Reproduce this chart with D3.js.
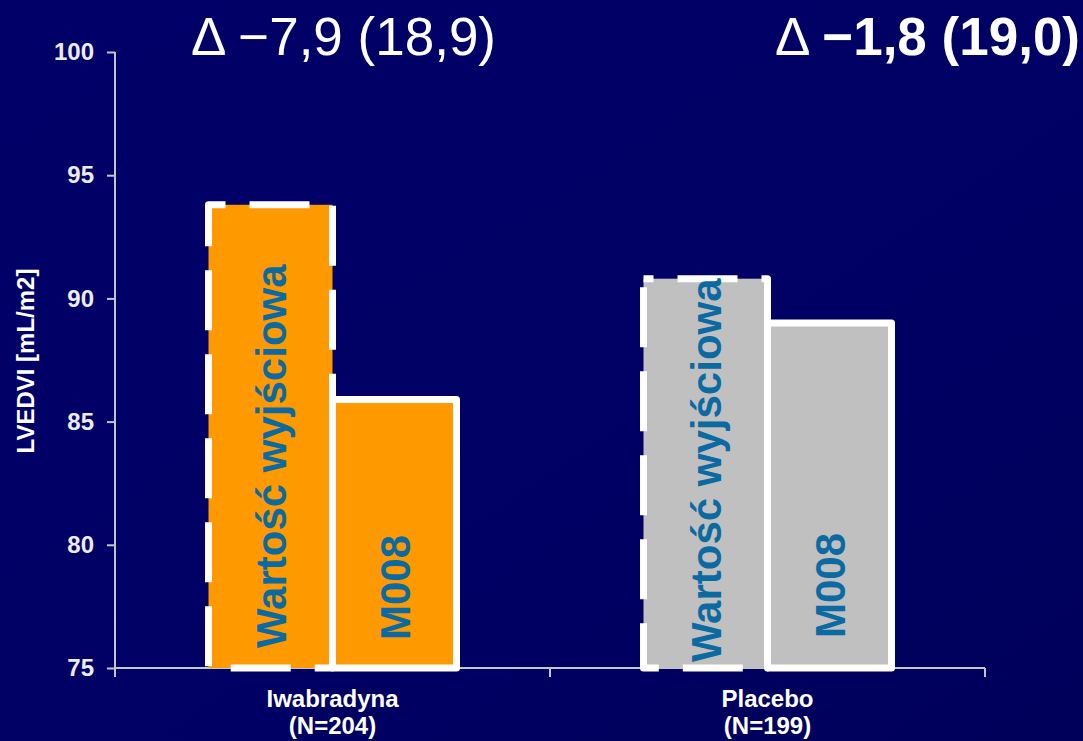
<!DOCTYPE html>
<html>
<head>
<meta charset="utf-8">
<script src="https://cdn.jsdelivr.net/npm/d3@7"></script>
<style>
  html, body { margin: 0; padding: 0; background: #000064; }
  svg { display: block; }
</style>
</head>
<body>
<svg id="chart" width="1083" height="741"></svg>
<script>
// LVEDVI at baseline and at month 8, by treatment group
const groups = ["Iwabradyna", "Placebo"];
const groupSizes = ["(N=204)", "(N=199)"];
const series = ["baseline", "m008"];
const seriesLabels = ["Wartość wyjściowa", "M008"];
const baselineValues = [93.8, 90.8];
const m008Values = [85.9, 89.0];
const deltaLabels = ["−7,9 (18,9)", "−1,8 (19,0)"];
const yTicks = [75, 80, 85, 90, 95, 100];
const yTitle = "LVEDVI [mL/m2]";

const W = 1083, H = 741;
const svg = d3.select("#chart");

// background
const defs = svg.append("defs");
const bg = defs.append("linearGradient").attr("id", "bg")
  .attr("x1", "0").attr("y1", "0").attr("x2", "1").attr("y2", "1");
bg.append("stop").attr("offset", "0").attr("stop-color", "#000068");
bg.append("stop").attr("offset", "0.6").attr("stop-color", "#000064");
bg.append("stop").attr("offset", "1").attr("stop-color", "#00005a");
svg.append("rect").attr("width", W).attr("height", H).attr("fill", "url(#bg)");

const plotLeft = 115, plotRight = 985, plotTop = 52, plotBottom = 668;

const x0 = d3.scaleBand().domain(groups).range([plotLeft, plotRight]).padding(0);
const groupWidth = 248;
const x1 = d3.scaleBand().domain(series)
  .range([(x0.bandwidth() - groupWidth) / 2, (x0.bandwidth() + groupWidth) / 2]).padding(0);
const y = d3.scaleLinear().domain([75, 100]).range([plotBottom, plotTop]);

const fills = { Iwabradyna: "#ff9900", Placebo: "#c0c0c0" };
const dashOffset = { Iwabradyna: 43, Placebo: 50 };
const textNudge = { Iwabradyna: [20, 28], Placebo: [6, 30] };
const axisColor = "#c4c4cc";

const data = groups.map((g, i) => ({
  group: g,
  values: [
    { key: "baseline", value: baselineValues[i], label: seriesLabels[0] },
    { key: "m008", value: m008Values[i], label: seriesLabels[1] }
  ]
}));

// y axis
const yAxis = svg.append("g").attr("transform", `translate(${plotLeft},0)`)
  .call(d3.axisLeft(y).tickValues(yTicks).tickSize(8).tickPadding(13).tickFormat(d3.format("d")));
yAxis.select(".domain").attr("stroke", axisColor).attr("stroke-width", 2)
  .attr("d", `M0,${y(100)}V${y(75)}`);
yAxis.selectAll(".tick line").attr("stroke", axisColor).attr("stroke-width", 2);
yAxis.selectAll(".tick text")
  .attr("fill", "#ececec")
  .style("font-family", "Liberation Sans, Arial, sans-serif")
  .style("font-weight", "bold")
  .style("font-size", "24px");

// x axis: ticks at the group boundaries
const xEdges = groups.map(g => x0(g)).concat([x0(groups[groups.length - 1]) + x0.bandwidth()]);
const xAxis = svg.append("g");
xAxis.append("line").attr("x1", plotLeft).attr("x2", plotRight).attr("y1", plotBottom).attr("y2", plotBottom)
  .attr("stroke", axisColor).attr("stroke-width", 2);
xAxis.selectAll("line.tk").data(xEdges).join("line").attr("class", "tk")
  .attr("x1", d => d).attr("x2", d => d).attr("y1", plotBottom).attr("y2", plotBottom + 9)
  .attr("stroke", axisColor).attr("stroke-width", 2);

// bars
const gGroups = svg.selectAll("g.grp").data(data).join("g")
  .attr("class", "grp")
  .attr("transform", d => `translate(${x0(d.group)},0)`);

gGroups.each(function (d) {
  const g = d3.select(this);
  d.values.forEach((v) => {
    const bx = x1(v.key), bw = x1.bandwidth();
    const r = g.append("rect")
      .attr("x", bx).attr("y", y(v.value))
      .attr("width", bw).attr("height", y(75) - y(v.value))
      .attr("fill", fills[d.group])
      .attr("stroke", "#ffffff").attr("stroke-width", 7)
      .attr("stroke-linejoin", "round");
    if (v.key === "baseline") {
      r.attr("stroke-dasharray", "60 24").attr("stroke-dashoffset", dashOffset[d.group]);
    }
  });
  d.values.forEach((v, j) => {
    const cx = x1(v.key) + x1.bandwidth() / 2;
    const sy = y(75) - textNudge[d.group][j];
    g.append("text")
      .attr("transform", `translate(${cx + 15},${sy}) rotate(-90)`)
      .attr("fill", "#0b6aa2")
      .style("font-family", "Liberation Sans, Arial, sans-serif")
      .style("font-weight", "bold")
      .style("font-size", "42px")
      .text(v.label);
  });
});

// category labels
const catLabels = svg.selectAll("text.cat").data(groups).join("text")
  .attr("class", "cat")
  .attr("x", d => x0(d) + x0.bandwidth() / 2)
  .attr("y", 707)
  .attr("text-anchor", "middle")
  .attr("fill", "#ffffff")
  .style("font-family", "Liberation Sans, Arial, sans-serif")
  .style("font-weight", "bold")
  .style("font-size", "24px");
catLabels.append("tspan").text(d => d);
catLabels.append("tspan")
  .attr("x", d => x0(d) + x0.bandwidth() / 2)
  .attr("dy", 27)
  .text((d, i) => groupSizes[i]);

// y axis title
svg.append("text")
  .attr("transform", `translate(34,361) rotate(-90)`)
  .attr("text-anchor", "middle")
  .attr("fill", "#ffffff")
  .style("font-family", "Liberation Sans, Arial, sans-serif")
  .style("font-weight", "bold")
  .style("font-size", "24px")
  .text(yTitle);

// change labels above each group
const deltaX = [191, 775];
groups.forEach((g, i) => {
  const t = svg.append("text")
    .attr("x", deltaX[i]).attr("y", 55)
    .attr("fill", "#ffffff")
    .style("font-family", "Liberation Sans, Arial, sans-serif")
    .style("font-size", "53px");
  t.append("tspan").style("font-weight", "normal").text("Δ ");
  t.append("tspan").style("font-weight", i === 1 ? "bold" : "normal").text(deltaLabels[i]);
});
</script>
</body>
</html>
